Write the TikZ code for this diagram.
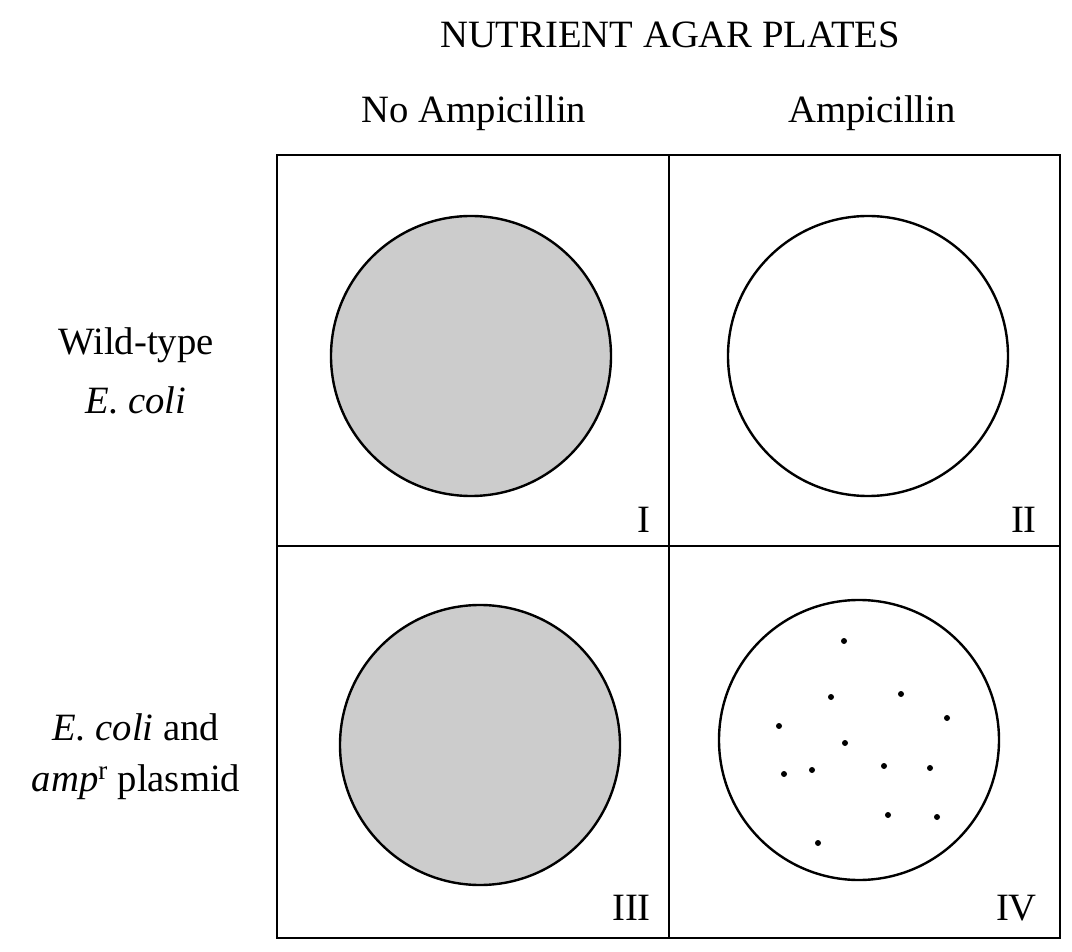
\documentclass[tikz,border=0pt]{standalone}
\usepackage{fontspec}
\setmainfont{Liberation Serif}
\begin{document}
\begin{tikzpicture}[x=0.75pt,y=-0.75pt,line width=1.8pt,
  lbl/.style={font=\fontsize{29}{34}\selectfont,inner sep=0pt},
  plate/.style={draw,circle,minimum size=210pt,inner sep=0pt},
  dot/.style={fill,circle,inner sep=0pt,minimum size=4.5pt}]
\useasboundingbox (0,0) rectangle (1072,952);
\draw (277,155) rectangle (1060,938);
\draw (669,155) -- (669,938);
\draw (277,546) -- (1060,546);
\node[plate,fill=black!20] (p1) at (471,356) {};
\node[plate] (p2) at (868,356) {};
\node[plate,fill=black!20] (p3) at (480,745) {};
\node[plate] (p4) at (859,740) {};
\foreach \i/\p in {a/{844,641},b/{831,697},c/{901,694},d/{779,726},e/{947,718},f/{845,743},g/{812,770},h/{784,774},k/{884,766},l/{930,768},m/{888,815},n/{937,817},o/{818,843}}
  \node[dot] (d\i) at (\p) {};
\node[lbl] (t) at (670,35) {NUTRIENT AGAR PLATES};
\node[lbl] (c1) at (474,113) {No Ampicillin};
\node[lbl] (c2) at (872,113) {Ampicillin};
\node[lbl] (r1a) at (136,345) {Wild-type};
\node[lbl] (r1b) at (136,400) {\textit{E. coli}};
\node[lbl] (r2a) at (136,727) {\textit{E. coli} and};
\node[lbl] (r2b) at (136,782) {\textit{amp}\textsuperscript{r} plasmid};
\node[lbl,anchor=east] (n1) at (652,520) {I};
\node[lbl,anchor=east] (n2) at (1038,520) {II};
\node[lbl,anchor=east] (n3) at (652,908) {III};
\node[lbl,anchor=east] (n4) at (1038,908) {IV};
\end{tikzpicture}
\end{document}
